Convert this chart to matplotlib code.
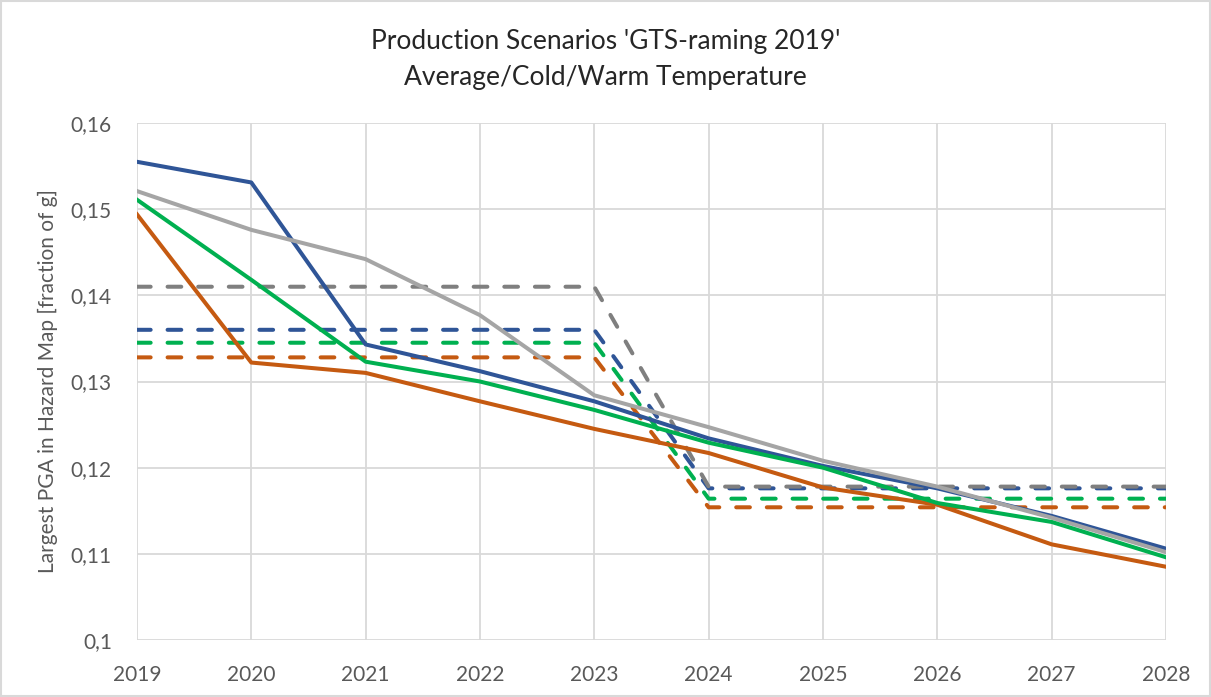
import matplotlib.pyplot as plt
from matplotlib.ticker import FuncFormatter, MultipleLocator
from matplotlib.patches import Rectangle

# years on the x axis
years = [2019, 2020, 2021, 2022, 2023, 2024, 2025, 2026, 2027, 2028]

# solid lines: yearly values
solid_blue = [0.1555, 0.1531, 0.1343, 0.1312, 0.1277, 0.1234, 0.1202, 0.1176, 0.1144, 0.1106]
solid_orange = [0.1494, 0.1322, 0.1310, 0.1277, 0.1245, 0.1217, 0.1177, 0.1157, 0.1111, 0.1085]
solid_gray = [0.1521, 0.1476, 0.1442, 0.1377, 0.1284, 0.1247, 0.1208, 0.1178, 0.1142, 0.1102]
solid_green = [0.1511, 0.1418, 0.1323, 0.1300, 0.1267, 0.1229, 0.1200, 0.1159, 0.1137, 0.1096]

# dashed lines: flat levels before and after 2024
dashed_blue = [0.1360] * 5 + [0.1176] * 5
dashed_orange = [0.1328] * 5 + [0.1154] * 5
dashed_green = [0.1345] * 5 + [0.1164] * 5
dashed_gray = [0.1410] * 5 + [0.1178] * 5

blue = '#2F5597'
orange = '#C55A11'
gray = '#A5A5A5'
dark_gray = '#7F7F7F'
green = '#00B050'

plt.rcParams['font.family'] = ['Lato', 'DejaVu Sans']

fig = plt.figure(figsize=(12.11, 6.97), dpi=100)
ax = fig.add_axes([0.1131, 0.0818, 0.9628 - 0.1131, 0.8235 - 0.0818])

lw = 2.9
dash = dict(linestyle=(0, (3.4, 4.2)), dash_capstyle='round', linewidth=lw)

# dashed levels
ax.plot(years, dashed_blue, color=blue, **dash)
ax.plot(years, dashed_orange, color=orange, **dash)
ax.plot(years, dashed_green, color=green, **dash)
ax.plot(years, dashed_gray, color=dark_gray, **dash)

# solid yearly values
ax.plot(years, solid_blue, color=blue, linewidth=lw)
ax.plot(years, solid_orange, color=orange, linewidth=lw)
ax.plot(years, solid_gray, color=gray, linewidth=lw)
ax.plot(years, solid_green, color=green, linewidth=lw)

ax.set_xlim(2019, 2028)
ax.set_ylim(0.10, 0.16)
ax.xaxis.set_major_locator(MultipleLocator(1))
ax.yaxis.set_major_locator(MultipleLocator(0.01))
ax.yaxis.set_major_formatter(FuncFormatter(lambda v, p: f"{v:.2f}".rstrip('0').replace('.', ',')))

ax.grid(True, color='#D9D9D9', linewidth=1.3)
ax.set_axisbelow(True)
for s in ax.spines.values():
    s.set_visible(False)
ax.tick_params(axis='both', length=0, labelsize=15, labelcolor='#595959')
ax.tick_params(axis='x', pad=18)
ax.tick_params(axis='y', pad=18)

ax.set_ylabel('Largest PGA in Hazard Map [fraction of g]', fontsize=15, color='#595959', labelpad=9)

fig.text(0.5, 0.94, "Production Scenarios 'GTS-raming 2019'", ha='center', va='center', fontsize=19, color='#262626')
fig.text(0.5, 0.889, 'Average/Cold/Warm Temperature', ha='center', va='center', fontsize=19, color='#262626')

# light border around the chart
fig.patches.append(Rectangle((0.001, 0.001), 0.998, 0.997, transform=fig.transFigure,
                             fill=False, edgecolor='#D9D9D9', linewidth=1.5))

fig.savefig('out.png', dpi=100)
